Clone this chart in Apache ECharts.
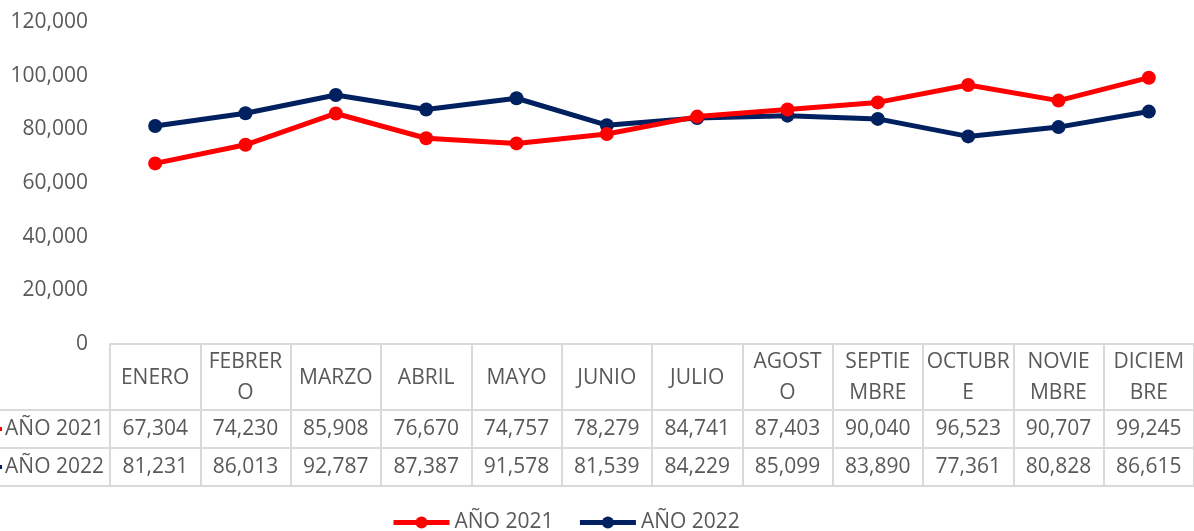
<!DOCTYPE html>
<html>
<head>
<meta charset="utf-8">
<script src="https://cdn.jsdelivr.net/npm/echarts@6/dist/echarts.min.js"></script>
<style>
  html, body { margin: 0; padding: 0; background: #fff; }
  #chart { width: 1194px; height: 531px; }
</style>
</head>
<body>
<div id="chart"></div>
<script>
// datos
const months = ['ENERO', 'FEBRERO', 'MARZO', 'ABRIL', 'MAYO', 'JUNIO', 'JULIO', 'AGOSTO', 'SEPTIEMBRE', 'OCTUBRE', 'NOVIEMBRE', 'DICIEMBRE'];
// encabezados como se ven cortados en la tabla
const headerLabels = ['ENERO', 'FEBRER\nO', 'MARZO', 'ABRIL', 'MAYO', 'JUNIO', 'JULIO', 'AGOST\nO', 'SEPTIE\nMBRE', 'OCTUBR\nE', 'NOVIE\nMBRE', 'DICIEM\nBRE'];
const ano2021 = [67304, 74230, 85908, 76670, 74757, 78279, 84741, 87403, 90040, 96523, 90707, 99245];
const ano2022 = [81231, 86013, 92787, 87387, 91578, 81539, 84229, 85099, 83890, 77361, 80828, 86615];
const seriesNames = ['AÑO 2021', 'AÑO 2022'];
const colors = ['#ff0000', '#002060'];

const FONT = 'Open Sans';
const TXT = '#595959';
const BORDER = '#d9d9d9';
const fmt = v => Number(v).toLocaleString('en-US');

const chart = echarts.init(document.getElementById('chart'));

// filas de la tabla de datos: un eje x extra por fila
const rowAxis = (values, offset) => ({
    type: 'category',
    data: months,
    position: 'bottom',
    offset: offset,
    axisLine: { show: false },
    axisTick: { show: false },
    axisLabel: {
        interval: 0,
        margin: 19,
        verticalAlign: 'middle',
        color: TXT,
        fontFamily: FONT,
        fontSize: 21,
        formatter: (v, i) => fmt(values[i])
    }
});

// lineas horizontales de la tabla y nombres de fila
const hLine = (y, x1) => ({
    type: 'line',
    silent: true,
    shape: { x1: x1, y1: y, x2: 1194, y2: y },
    style: { stroke: BORDER, lineWidth: 2 }
});
const rowLabel = (name, y, color) => ([
    {
        type: 'line',
        shape: { x1: -20, y1: y, x2: 2, y2: y },
        style: { stroke: color, lineWidth: 4 }
    },
    {
        type: 'text',
        x: 104,
        y: y,
        style: {
            text: name,
            fill: TXT,
            font: '21px "' + FONT + '"',
            align: 'right',
            verticalAlign: 'middle'
        }
    }
]);

chart.setOption({
    animation: false,
    color: colors,
    grid: { left: 110, top: 22, width: 1090, height: 322 },
    legend: {
        data: seriesNames,
        top: 507,
        left: 386,
        itemWidth: 56,
        itemHeight: 15,
        itemGap: 24,
        lineStyle: { width: 5 },
        textStyle: { color: TXT, fontFamily: FONT, fontSize: 21 }
    },
    xAxis: [
        {
            type: 'category',
            data: months,
            boundaryGap: true,
            axisLine: { lineStyle: { color: BORDER, width: 2 } },
            axisTick: {
                show: true,
                interval: 0,
                length: 142,
                lineStyle: { color: BORDER, width: 2 }
            },
            axisLabel: {
                interval: 0,
                margin: 34,
                verticalAlign: 'middle',
                lineHeight: 31,
                color: TXT,
                fontFamily: FONT,
                fontSize: 21,
                formatter: (v, i) => headerLabels[i]
            }
        },
        rowAxis(ano2021, 66),
        rowAxis(ano2022, 104)
    ],
    yAxis: {
        type: 'value',
        min: 0,
        max: 120000,
        interval: 20000,
        axisLine: { show: false },
        axisTick: { show: false },
        splitLine: { show: false },
        axisLabel: {
            margin: 22,
            color: TXT,
            fontFamily: FONT,
            fontSize: 21,
            formatter: v => fmt(v)
        }
    },
    graphic: [
        hLine(410, 0),
        hLine(448, 0),
        hLine(486, 0),
        ...rowLabel(seriesNames[0], 429, colors[0]),
        ...rowLabel(seriesNames[1], 467, colors[1])
    ],
    series: [
        {
            name: seriesNames[0],
            type: 'line',
            data: ano2021,
            symbol: 'circle',
            symbolSize: 14,
            lineStyle: { width: 5 },
            z: 3
        },
        {
            name: seriesNames[1],
            type: 'line',
            data: ano2022,
            symbol: 'circle',
            symbolSize: 14,
            lineStyle: { width: 5 },
            z: 2
        }
    ]
});
</script>
</body>
</html>
